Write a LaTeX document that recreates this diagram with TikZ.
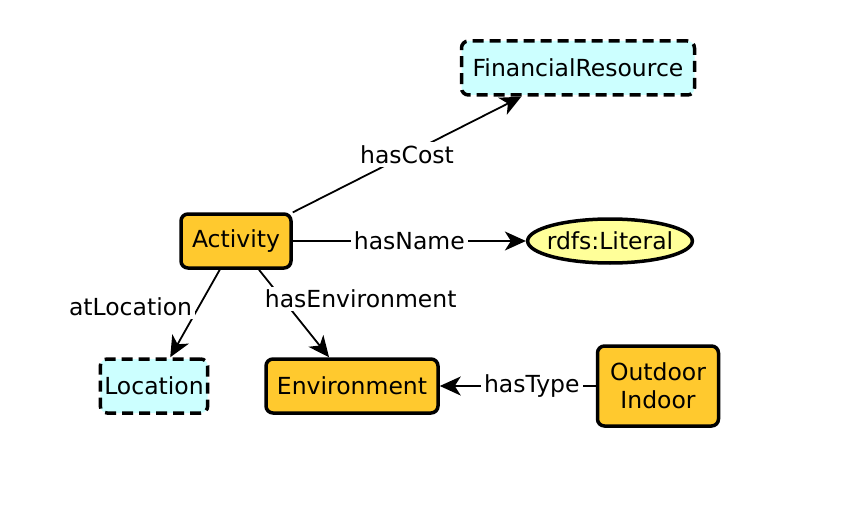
\documentclass[tikz,border=0pt]{standalone}
\usepackage{fontspec}
\setsansfont{DejaVu Sans}
\usetikzlibrary{arrows.meta,shapes.geometric}
\definecolor{clsfill}{HTML}{FFC92E}
\definecolor{extfill}{HTML}{CCFFFF}
\definecolor{litfill}{HTML}{FFFF99}

\begin{document}
\begin{tikzpicture}[x=1pt,y=-1pt,>={Stealth[length=21pt,width=19pt,inset=6pt]},font=\sffamily\fontsize{23.5}{28}\selectfont,cls/.style={draw,line width=3.5pt,rounded corners=7pt,fill=clsfill,align=center,minimum height=54pt,inner xsep=4pt},ext/.style={cls,fill=extfill,dash pattern=on 11pt off 6pt},lit/.style={draw,ellipse,line width=3.5pt,fill=litfill,minimum height=44pt,inner xsep=-5pt},rel/.style={->,line width=1.8pt},lbl/.style={fill=white,inner sep=3pt}]
\useasboundingbox (0,0) rectangle (854,508);
\node[ext,minimum width=233pt] (fin) at (578,68) {FinancialResource};
\node[cls,minimum width=110pt] (act) at (236,241) {Activity};
\node[lit] (lit) at (610,241) {rdfs:Literal};
\node[ext,minimum width=103pt] (loc) at (154,386) {Location};
\node[cls,minimum width=172pt] (env) at (352,386) {Environment};
\node[cls,minimum width=121pt,minimum height=80pt] (typ) at (658,386) {Outdoor\\Indoor};
\draw[rel] (act) -- node[lbl] {hasCost} (fin);
\draw[rel] (act) -- node[lbl] {hasName} (lit);
\draw[rel] (act) -- node[lbl,pos=0.42,anchor=east,xshift=-3pt] {atLocation} (loc);
\draw[rel] (act) -- node[lbl,pos=0.3,anchor=north west,xshift=-19pt,yshift=10pt] {hasEnvironment} (env);
\draw[rel] (typ) -- node[lbl,pos=0.41] {hasType} (env);
\end{tikzpicture}
\end{document}
